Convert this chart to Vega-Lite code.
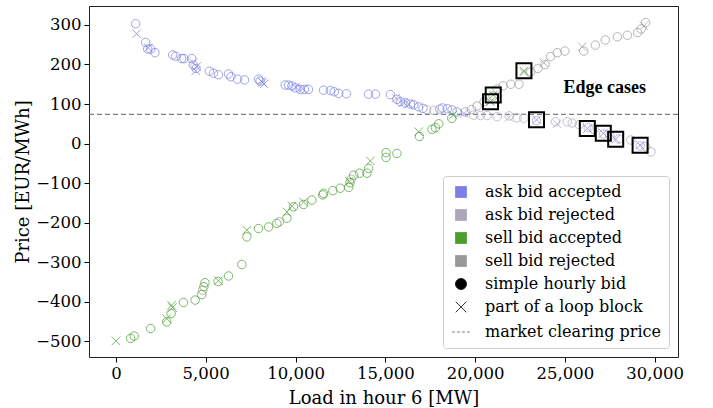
{
  "$schema": "https://vega.github.io/schema/vega-lite/v6.json",
  "width": 589,
  "height": 351,
  "autosize": {"type": "none"},
  "padding": {"left": 89, "top": 6, "right": 35, "bottom": 51},
  "background": "white",
  "config": {
    "view": {"stroke": "#222222", "strokeWidth": 1},
    "axis": {"labelFont": "DejaVu Serif", "labelFontSize": 16.5, "titleFont": "DejaVu Serif", "titleFontSize": 18, "titleFontWeight": "normal", "labelColor": "#000000", "titleColor": "#000000", "tickColor": "#000000", "domain": false, "grid": false, "tickSize": 5, "labelPadding": 3},
    "legend": {"orient": "bottom-right", "offset": 9, "labelFont": "DejaVu Serif", "labelFontSize": 16, "labelColor": "#000000", "labelLimit": 400, "rowPadding": 7, "padding": 8, "strokeColor": "#cccccc", "fillColor": "rgba(255,255,255,0.85)", "cornerRadius": 3, "labelOffset": 14, "symbolOpacity": 1, "symbolStrokeWidth": 1}
  },
  "resolve": {"legend": {"color": "independent", "shape": "independent", "stroke": "independent", "strokeDash": "independent", "size": "independent"}},
  "datasets": {
    "pts": [
      {"x": 4300, "y": 205, "c": "ar", "t": "l"}, {"x": 8100, "y": 158, "c": "ar", "t": "l"}, {"x": 15600, "y": 115, "c": "ar", "t": "l"},
      {"x": 17300, "y": 86, "c": "ar", "t": "s"}, {"x": 17700, "y": 84, "c": "ar", "t": "s"},
      {"x": 19930, "y": 72, "c": "ar", "t": "s"}, {"x": 20300, "y": 71, "c": "ar", "t": "s"}, {"x": 20670, "y": 71, "c": "ar", "t": "s"}, {"x": 21230, "y": 68, "c": "ar", "t": "s"}, {"x": 21880, "y": 66, "c": "ar", "t": "l"}, {"x": 21900, "y": 70, "c": "ar", "t": "s"}, {"x": 22340, "y": 65, "c": "ar", "t": "s"}, {"x": 22710, "y": 64, "c": "ar", "t": "s"}, {"x": 23420, "y": 58, "c": "ar", "t": "s"}, {"x": 24480, "y": 55, "c": "ar", "t": "s"}, {"x": 24560, "y": 50, "c": "ar", "t": "l"}, {"x": 25130, "y": 55, "c": "ar", "t": "s"}, {"x": 25410, "y": 52, "c": "ar", "t": "s"}, {"x": 25800, "y": 48, "c": "ar", "t": "s"}, {"x": 26300, "y": 40, "c": "ar", "t": "s"}, {"x": 26630, "y": 36, "c": "ar", "t": "s"}, {"x": 27150, "y": 24, "c": "ar", "t": "s"}, {"x": 27500, "y": 20, "c": "ar", "t": "s"}, {"x": 28000, "y": 12, "c": "ar", "t": "s"}, {"x": 28670, "y": 9, "c": "ar", "t": "s"}, {"x": 29200, "y": -6, "c": "ar", "t": "s"}, {"x": 29500, "y": -8, "c": "ar", "t": "s"}, {"x": 29790, "y": -21, "c": "ar", "t": "s"},
      {"x": 4830, "y": -371, "c": "sr", "t": "s"}, {"x": 9100, "y": -198, "c": "sr", "t": "s"}, {"x": 13100, "y": -90, "c": "sr", "t": "s"},
      {"x": 19460, "y": 80, "c": "sr", "t": "s"}, {"x": 19800, "y": 86, "c": "sr", "t": "s"}, {"x": 20110, "y": 95, "c": "sr", "t": "s"}, {"x": 20500, "y": 106, "c": "sr", "t": "s"}, {"x": 21000, "y": 120, "c": "sr", "t": "s"}, {"x": 21230, "y": 138, "c": "sr", "t": "s"}, {"x": 21560, "y": 146, "c": "sr", "t": "s"}, {"x": 21990, "y": 150, "c": "sr", "t": "s"}, {"x": 22440, "y": 150, "c": "sr", "t": "s"}, {"x": 22720, "y": 180, "c": "sr", "t": "l"}, {"x": 23090, "y": 181, "c": "sr", "t": "s"}, {"x": 23500, "y": 190, "c": "sr", "t": "s"}, {"x": 23830, "y": 204, "c": "sr", "t": "l"}, {"x": 23900, "y": 200, "c": "sr", "t": "s"}, {"x": 24200, "y": 220, "c": "sr", "t": "s"}, {"x": 24580, "y": 230, "c": "sr", "t": "s"}, {"x": 25000, "y": 234, "c": "sr", "t": "s"}, {"x": 25970, "y": 245, "c": "sr", "t": "l"}, {"x": 26050, "y": 234, "c": "sr", "t": "s"}, {"x": 26700, "y": 249, "c": "sr", "t": "s"}, {"x": 27250, "y": 262, "c": "sr", "t": "s"}, {"x": 27920, "y": 270, "c": "sr", "t": "s"}, {"x": 28480, "y": 274, "c": "sr", "t": "s"}, {"x": 29050, "y": 281, "c": "sr", "t": "s"}, {"x": 29250, "y": 290, "c": "sr", "t": "s"}, {"x": 29400, "y": 298, "c": "sr", "t": "l"}, {"x": 29500, "y": 306, "c": "sr", "t": "s"},
      {"x": 1100, "y": 303, "c": "aa", "t": "s"}, {"x": 1150, "y": 278, "c": "aa", "t": "l"}, {"x": 1650, "y": 256, "c": "aa", "t": "s"}, {"x": 1770, "y": 239, "c": "aa", "t": "s"}, {"x": 1800, "y": 242, "c": "aa", "t": "l"}, {"x": 1935, "y": 239, "c": "aa", "t": "s"}, {"x": 2175, "y": 230, "c": "aa", "t": "s"}, {"x": 3160, "y": 224, "c": "aa", "t": "s"}, {"x": 3330, "y": 221, "c": "aa", "t": "s"}, {"x": 3660, "y": 215, "c": "aa", "t": "s"}, {"x": 3790, "y": 215, "c": "aa", "t": "s"}, {"x": 4220, "y": 215, "c": "aa", "t": "s"}, {"x": 4310, "y": 199, "c": "aa", "t": "s"}, {"x": 4460, "y": 190, "c": "aa", "t": "s"}, {"x": 4445, "y": 184, "c": "aa", "t": "l"}, {"x": 4500, "y": 195, "c": "aa", "t": "l"}, {"x": 5200, "y": 183, "c": "aa", "t": "s"}, {"x": 5430, "y": 178, "c": "aa", "t": "s"}, {"x": 5710, "y": 174, "c": "aa", "t": "s"}, {"x": 6270, "y": 176, "c": "aa", "t": "s"}, {"x": 6400, "y": 169, "c": "aa", "t": "s"}, {"x": 6770, "y": 163, "c": "aa", "t": "s"}, {"x": 7160, "y": 161, "c": "aa", "t": "s"}, {"x": 7940, "y": 163, "c": "aa", "t": "s"}, {"x": 8030, "y": 158, "c": "aa", "t": "s"}, {"x": 8250, "y": 151, "c": "aa", "t": "l"}, {"x": 8150, "y": 155, "c": "aa", "t": "l"}, {"x": 9425, "y": 148, "c": "aa", "t": "s"}, {"x": 9610, "y": 148, "c": "aa", "t": "s"}, {"x": 9800, "y": 146, "c": "aa", "t": "s"}, {"x": 9980, "y": 141, "c": "aa", "t": "s"}, {"x": 10000, "y": 143, "c": "aa", "t": "l"}, {"x": 10260, "y": 137, "c": "aa", "t": "s"}, {"x": 10400, "y": 139, "c": "aa", "t": "l"}, {"x": 10500, "y": 137, "c": "aa", "t": "s"}, {"x": 10720, "y": 137, "c": "aa", "t": "s"}, {"x": 11560, "y": 135, "c": "aa", "t": "s"}, {"x": 11940, "y": 134, "c": "aa", "t": "s"}, {"x": 12160, "y": 131, "c": "aa", "t": "s"}, {"x": 12400, "y": 127, "c": "aa", "t": "s"}, {"x": 12830, "y": 126, "c": "aa", "t": "s"}, {"x": 14070, "y": 125, "c": "aa", "t": "s"}, {"x": 14450, "y": 125, "c": "aa", "t": "s"}, {"x": 15280, "y": 124, "c": "aa", "t": "s"}, {"x": 15650, "y": 112, "c": "aa", "t": "s"}, {"x": 15840, "y": 106, "c": "aa", "t": "s"}, {"x": 16000, "y": 104, "c": "aa", "t": "l"}, {"x": 16120, "y": 103, "c": "aa", "t": "s"}, {"x": 16300, "y": 100, "c": "aa", "t": "l"}, {"x": 16400, "y": 100, "c": "aa", "t": "s"}, {"x": 16580, "y": 98, "c": "aa", "t": "s"}, {"x": 16860, "y": 93, "c": "aa", "t": "s"}, {"x": 17100, "y": 89, "c": "aa", "t": "s"}, {"x": 18030, "y": 87, "c": "aa", "t": "s"}, {"x": 18180, "y": 90, "c": "aa", "t": "s"}, {"x": 18450, "y": 88, "c": "aa", "t": "s"}, {"x": 18720, "y": 85, "c": "aa", "t": "s"}, {"x": 19000, "y": 80, "c": "aa", "t": "s"}, {"x": 19380, "y": 76, "c": "aa", "t": "l"},
      {"x": 23420, "y": 60, "c": "aa", "t": "l"}, {"x": 26250, "y": 38, "c": "aa", "t": "l"}, {"x": 27140, "y": 26, "c": "aa", "t": "l"}, {"x": 27830, "y": 11, "c": "aa", "t": "l"}, {"x": 29190, "y": -4, "c": "aa", "t": "l"},
      {"x": 0, "y": -499, "c": "sa", "t": "l"}, {"x": 820, "y": -493, "c": "sa", "t": "s"}, {"x": 1020, "y": -487, "c": "sa", "t": "s"}, {"x": 1935, "y": -468, "c": "sa", "t": "s"}, {"x": 2830, "y": -451, "c": "sa", "t": "s"}, {"x": 2830, "y": -443, "c": "sa", "t": "l"}, {"x": 3070, "y": -430, "c": "sa", "t": "s"}, {"x": 3100, "y": -409, "c": "sa", "t": "l"}, {"x": 3150, "y": -415, "c": "sa", "t": "l"}, {"x": 3760, "y": -402, "c": "sa", "t": "s"}, {"x": 4410, "y": -396, "c": "sa", "t": "s"}, {"x": 4780, "y": -382, "c": "sa", "t": "s"}, {"x": 4900, "y": -362, "c": "sa", "t": "s"}, {"x": 4960, "y": -352, "c": "sa", "t": "s"}, {"x": 5690, "y": -349, "c": "sa", "t": "s"}, {"x": 5710, "y": -347, "c": "sa", "t": "l"}, {"x": 6270, "y": -335, "c": "sa", "t": "s"}, {"x": 7010, "y": -306, "c": "sa", "t": "s"}, {"x": 7290, "y": -219, "c": "sa", "t": "l"}, {"x": 7290, "y": -236, "c": "sa", "t": "s"}, {"x": 7940, "y": -215, "c": "sa", "t": "s"}, {"x": 8500, "y": -211, "c": "sa", "t": "s"}, {"x": 8960, "y": -202, "c": "sa", "t": "s"}, {"x": 9520, "y": -189, "c": "sa", "t": "s"}, {"x": 9520, "y": -173, "c": "sa", "t": "l"}, {"x": 9890, "y": -160, "c": "sa", "t": "s"}, {"x": 9800, "y": -158, "c": "sa", "t": "l"}, {"x": 10450, "y": -154, "c": "sa", "t": "s"}, {"x": 10450, "y": -148, "c": "sa", "t": "l"}, {"x": 10910, "y": -143, "c": "sa", "t": "s"}, {"x": 11520, "y": -130, "c": "sa", "t": "s"}, {"x": 11560, "y": -126, "c": "sa", "t": "s"}, {"x": 12080, "y": -119, "c": "sa", "t": "s"}, {"x": 12490, "y": -113, "c": "sa", "t": "s"}, {"x": 12960, "y": -111, "c": "sa", "t": "s"}, {"x": 13030, "y": -99, "c": "sa", "t": "s"}, {"x": 13000, "y": -95, "c": "sa", "t": "l"}, {"x": 13240, "y": -80, "c": "sa", "t": "s"}, {"x": 13570, "y": -75, "c": "sa", "t": "s"}, {"x": 13980, "y": -75, "c": "sa", "t": "s"}, {"x": 14070, "y": -63, "c": "sa", "t": "s"}, {"x": 14170, "y": -44, "c": "sa", "t": "l"}, {"x": 15040, "y": -23, "c": "sa", "t": "s"}, {"x": 15040, "y": -35, "c": "sa", "t": "s"}, {"x": 15650, "y": -25, "c": "sa", "t": "s"}, {"x": 16860, "y": 30, "c": "sa", "t": "l"}, {"x": 16900, "y": 18, "c": "sa", "t": "s"}, {"x": 17600, "y": 36, "c": "sa", "t": "s"}, {"x": 17790, "y": 40, "c": "sa", "t": "s"}, {"x": 17980, "y": 50, "c": "sa", "t": "s"}, {"x": 18700, "y": 64, "c": "sa", "t": "s"}, {"x": 18780, "y": 72, "c": "sa", "t": "l"},
      {"x": 20860, "y": 106, "c": "sa", "t": "l"}, {"x": 21010, "y": 123, "c": "sa", "t": "l"}, {"x": 22720, "y": 184, "c": "sa", "t": "l"}
    ],
    "edges": [
      {"x": 20860, "y": 106}, {"x": 21010, "y": 123}, {"x": 22720, "y": 184},
      {"x": 23420, "y": 60}, {"x": 26250, "y": 38}, {"x": 27140, "y": 26}, {"x": 27830, "y": 11}, {"x": 29190, "y": -4}
    ],
    "keys": [
      {"e": "aa", "x": 15000, "y": 0}, {"e": "ar", "x": 15000, "y": 0}, {"e": "sa", "x": 15000, "y": 0}, {"e": "sr", "x": 15000, "y": 0},
      {"e": "s", "x": 15000, "y": 0}, {"e": "l", "x": 15000, "y": 0}, {"e": "m", "x": 15000, "y": 0}
    ],
    "notes": [{"x": 27220, "y": 140, "label": "Edge cases"}]
  },
  "layer": [
    {
      "data": {"values": [{"mcp": 74}]},
      "mark": {"type": "rule", "color": "#808080", "strokeWidth": 1.3, "strokeDash": [5, 3]},
      "encoding": {"y": {"field": "mcp", "type": "quantitative"}}
    },
    {
      "data": {"name": "keys"},
      "mark": {"type": "point", "filled": true, "opacity": 0, "strokeWidth": 1},
      "encoding": {
        "x": {"field": "x", "type": "quantitative", "scale": {"domain": [-1500, 31300], "nice": false, "zero": false}, "axis": {"title": "Load in hour 6 [MW]", "values": [0, 5000, 10000, 15000, 20000, 25000, 30000], "format": ",d", "titlePadding": 8}},
        "y": {"field": "y", "type": "quantitative", "scale": {"domain": [-540, 348], "nice": false, "zero": false}, "axis": {"title": "Price [EUR/MWh]", "values": [-500, -400, -300, -200, -100, 0, 100, 200, 300], "format": "d", "titlePadding": 3}},
        "color": {"field": "e", "type": "nominal", "scale": {"domain": ["aa", "ar", "sa", "sr", "s", "l", "m"], "range": ["#7b7fe6", "#aea5bb", "#4a9e2e", "#999999", "#000000", "#000000", "#808080"]},
          "legend": {"title": null, "labelExpr": "datum.value=='aa'?'ask bid accepted':datum.value=='ar'?'ask bid rejected':datum.value=='sa'?'sell bid accepted':datum.value=='sr'?'sell bid rejected':datum.value=='s'?'simple hourly bid':datum.value=='l'?'part of a loop block':'market clearing price'"}},
        "shape": {"field": "e", "type": "nominal", "scale": {"domain": ["aa", "ar", "sa", "sr", "s", "l", "m"], "range": ["square", "square", "square", "square", "circle", "M-1,-1L1,1M-1,1L1,-1", "stroke"]},
          "legend": {"title": null, "labelExpr": "datum.value=='aa'?'ask bid accepted':datum.value=='ar'?'ask bid rejected':datum.value=='sa'?'sell bid accepted':datum.value=='sr'?'sell bid rejected':datum.value=='s'?'simple hourly bid':datum.value=='l'?'part of a loop block':'market clearing price'"}},
        "stroke": {"field": "e", "type": "nominal", "scale": {"domain": ["aa", "ar", "sa", "sr", "s", "l", "m"], "range": ["#7b7fe6", "#aea5bb", "#4a9e2e", "#999999", "#000000", "#000000", "#808080"]},
          "legend": {"title": null, "labelExpr": "datum.value=='aa'?'ask bid accepted':datum.value=='ar'?'ask bid rejected':datum.value=='sa'?'sell bid accepted':datum.value=='sr'?'sell bid rejected':datum.value=='s'?'simple hourly bid':datum.value=='l'?'part of a loop block':'market clearing price'"}},
        "strokeDash": {"field": "e", "type": "nominal", "scale": {"domain": ["aa", "ar", "sa", "sr", "s", "l", "m"], "range": [[1, 0], [1, 0], [1, 0], [1, 0], [1, 0], [1, 0], [3, 2]]},
          "legend": {"title": null, "labelExpr": "datum.value=='aa'?'ask bid accepted':datum.value=='ar'?'ask bid rejected':datum.value=='sa'?'sell bid accepted':datum.value=='sr'?'sell bid rejected':datum.value=='s'?'simple hourly bid':datum.value=='l'?'part of a loop block':'market clearing price'"}},
        "size": {"field": "e", "type": "nominal", "scale": {"type": "ordinal", "domain": ["aa", "ar", "sa", "sr", "s", "l", "m"], "range": [120, 120, 120, 120, 120, 110, 330]},
          "legend": {"title": null, "labelExpr": "datum.value=='aa'?'ask bid accepted':datum.value=='ar'?'ask bid rejected':datum.value=='sa'?'sell bid accepted':datum.value=='sr'?'sell bid rejected':datum.value=='s'?'simple hourly bid':datum.value=='l'?'part of a loop block':'market clearing price'"}}
      }
    },
    {
      "data": {"name": "pts"},
      "mark": {"type": "point", "filled": false, "size": 72, "strokeWidth": 1, "opacity": 0.72},
      "encoding": {
        "x": {"field": "x", "type": "quantitative"},
        "y": {"field": "y", "type": "quantitative"},
        "color": {"field": "c", "type": "nominal", "legend": null, "scale": {"domain": ["aa", "ar", "sa", "sr", "s", "l", "m"], "range": ["#7b7fe6", "#aea5bb", "#4a9e2e", "#999999", "#000000", "#000000", "#808080"]}},
        "shape": {"field": "t", "type": "nominal", "legend": null, "scale": {"domain": ["aa", "ar", "sa", "sr", "s", "l", "m"], "range": ["square", "square", "square", "square", "circle", "M-1,-1L1,1M-1,1L1,-1", "stroke"]}}
      }
    },
    {
      "data": {"name": "edges"},
      "mark": {"type": "point", "shape": "square", "filled": false, "size": 225, "strokeWidth": 2, "color": "#000000", "opacity": 1},
      "encoding": {"x": {"field": "x", "type": "quantitative"}, "y": {"field": "y", "type": "quantitative"}}
    },
    {
      "data": {"name": "notes"},
      "mark": {"type": "text", "font": "Liberation Serif", "fontWeight": "bold", "fontSize": 18, "color": "#000000", "align": "center", "baseline": "middle"},
      "encoding": {"x": {"field": "x", "type": "quantitative"}, "y": {"field": "y", "type": "quantitative"}, "text": {"field": "label"}}
    }
  ]
}
